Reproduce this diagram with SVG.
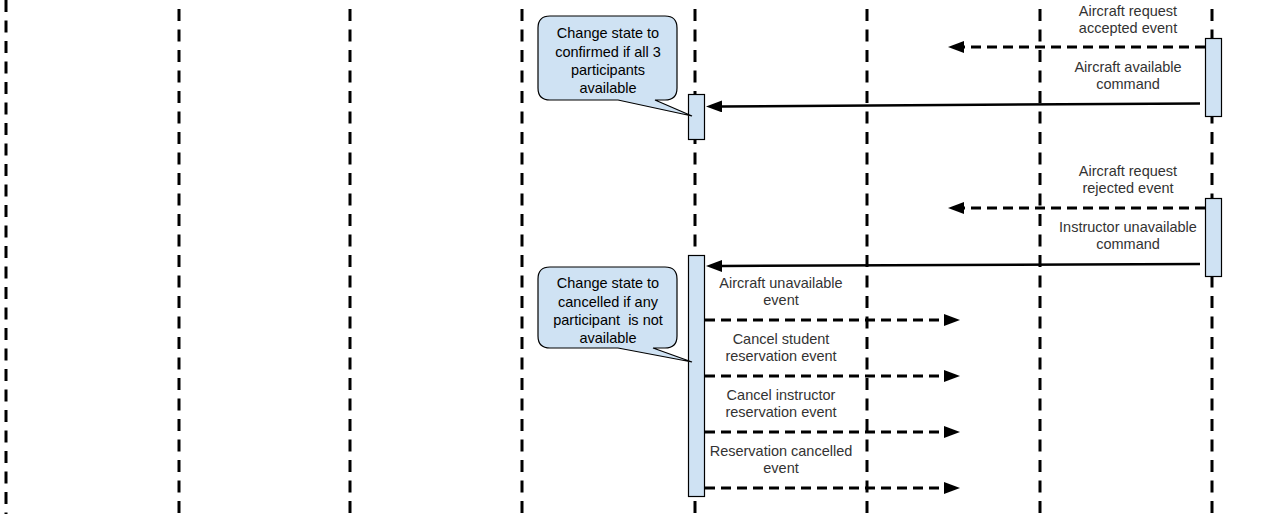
<svg xmlns="http://www.w3.org/2000/svg" width="1280" height="526" viewBox="0 0 1280 526">
<style>
.life{stroke:#000;stroke-width:3;stroke-dasharray:12 8.5;fill:none}
.bar{fill:#cfe2f3;stroke:#000;stroke-width:1.2}
.dash{stroke:#000;stroke-width:3;stroke-dasharray:10 6;fill:none}
.solid{stroke:#000;stroke-width:2.5;fill:none}
.lbl{font-family:"Liberation Sans",Arial,sans-serif;font-size:14.5px;fill:#333;text-anchor:middle}
.note{fill:#cfe2f3;stroke:#000;stroke-width:1.2}
.nt{font-family:"Liberation Sans",Arial,sans-serif;font-size:14.5px;fill:#000;text-anchor:middle;white-space:pre}
</style>
<defs>
<marker id="ah" markerUnits="userSpaceOnUse" markerWidth="17" markerHeight="13" refX="0" refY="6" orient="auto">
<path d="M0,0 L16,6 L0,12 Z" fill="#000"/>
</marker>
</defs>
<rect width="1280" height="526" fill="#fff"/>
<g id="lifelines">
<line class="life" x1="6" y1="0" x2="6" y2="514"/>
<line class="life" x1="179" y1="9" x2="179" y2="516"/>
<line class="life" x1="350" y1="9" x2="350" y2="516"/>
<line class="life" x1="522" y1="9" x2="522" y2="516"/>
<line class="life" x1="695" y1="9" x2="695" y2="516"/>
<line class="life" x1="867" y1="9" x2="867" y2="516"/>
<line class="life" x1="1040" y1="9" x2="1040" y2="516"/>
<line class="life" x1="1212" y1="9" x2="1212" y2="516"/>
</g>
<g id="activation-1"><rect class="bar" x="1205.5" y="38.5" width="16" height="78"/></g>
<g id="activation-2"><rect class="bar" x="688.5" y="94.5" width="16" height="45"/></g>
<g id="activation-3"><rect class="bar" x="1205.5" y="198.5" width="16" height="78"/></g>
<g id="activation-4"><rect class="bar" x="688.5" y="255.5" width="16" height="241"/></g>
<g id="connectors">
<line class="dash" x1="1205" y1="47" x2="964" y2="47" marker-end="url(#ah)"/>
<line class="solid" x1="1200" y1="103.5" x2="722" y2="106.4" marker-end="url(#ah)"/>
<line class="dash" x1="1205" y1="208" x2="964" y2="208" marker-end="url(#ah)"/>
<line class="solid" x1="1200" y1="264" x2="722" y2="266" marker-end="url(#ah)"/>
<line class="dash" x1="705" y1="320" x2="944" y2="320" marker-end="url(#ah)"/>
<line class="dash" x1="705" y1="376" x2="944" y2="376" marker-end="url(#ah)"/>
<line class="dash" x1="705" y1="432" x2="944" y2="432" marker-end="url(#ah)"/>
<line class="dash" x1="705" y1="488" x2="944" y2="488" marker-end="url(#ah)"/>
</g>
<g id="labels">
<text class="lbl" x="1128" y="16">Aircraft request</text>
<text class="lbl" x="1128" y="33">accepted event</text>
<text class="lbl" x="1128" y="72">Aircraft available</text>
<text class="lbl" x="1128" y="89">command</text>
<text class="lbl" x="1128" y="176">Aircraft request</text>
<text class="lbl" x="1128" y="193">rejected event</text>
<text class="lbl" x="1128" y="232">Instructor unavailable</text>
<text class="lbl" x="1128" y="249">command</text>
<text class="lbl" x="781" y="288">Aircraft unavailable</text>
<text class="lbl" x="781" y="305">event</text>
<text class="lbl" x="781" y="344">Cancel student</text>
<text class="lbl" x="781" y="361">reservation event</text>
<text class="lbl" x="781" y="400">Cancel instructor</text>
<text class="lbl" x="781" y="417">reservation event</text>
<text class="lbl" x="781" y="456">Reservation cancelled</text>
<text class="lbl" x="781" y="473">event</text>
</g>
<g id="note-confirmed">
<path class="note" d="M550,16 H665 Q677,16 677,28 V88 Q677,100 665,100 H655 L692,116 L618,100 H550 Q538,100 538,88 V28 Q538,16 550,16 Z"/>
<text class="nt" x="608" y="38">Change state to</text>
<text class="nt" x="608" y="56.5">confirmed if all 3</text>
<text class="nt" x="608" y="75">participants</text>
<text class="nt" x="608" y="93">available</text>
</g>
<g id="note-cancelled">
<path class="note" d="M550,267 H665 Q677,267 677,279 V336 Q677,348 665,348 H653 L692,362 L618,348 H550 Q538,348 538,336 V279 Q538,267 550,267 Z"/>
<text class="nt" x="608" y="288">Change state to</text>
<text class="nt" x="608" y="306.5">cancelled if any</text>
<text class="nt" x="608" y="325" xml:space="preserve">participant  is not</text>
<text class="nt" x="608" y="343">available</text>
</g>
</svg>
